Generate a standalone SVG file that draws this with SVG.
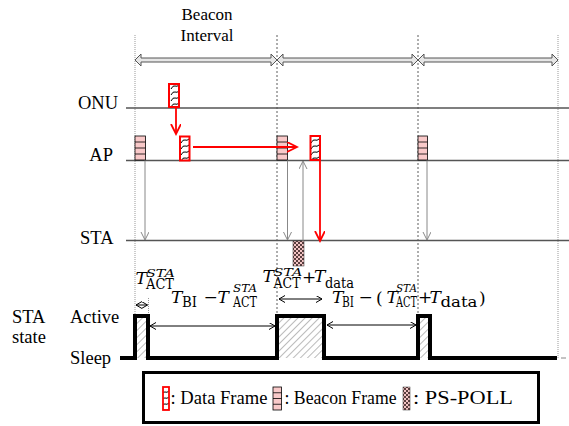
<svg xmlns="http://www.w3.org/2000/svg" width="569" height="426" viewBox="0 0 569 426" font-family="'Liberation Serif', 'DejaVu Serif', serif">
<style>
text{font-family:'Liberation Serif','DejaVu Serif',serif;fill:#000}
.lbl{font-size:18.5px}
.leg{font-size:18.5px}
.mt{font-family:'DejaVu Serif','Liberation Serif',serif}
.m{font-size:17px;font-style:italic}
.op{font-size:17px}
.sub{font-size:14.5px}
.sup{font-size:11.5px;font-style:italic}
.axis{stroke:#555;stroke-width:1.4}
.vdot{stroke:#999;stroke-width:1;stroke-dasharray:1 1}
.vdash{stroke:#333;stroke-width:0.8;stroke-dasharray:2 2}
.gray{stroke:#888;stroke-width:1;fill:none}
.red{stroke:#ff0000;stroke-width:1.8;fill:none}
.meas{stroke:#000;stroke-width:1;fill:none}
.beacon{fill:#f9c9c9;stroke:#000;stroke-width:0.8}
.data{fill:url(#dataH);stroke:#ff0000;stroke-width:2}
.bi{fill:#e6e6e6;stroke:#555;stroke-width:1}
</style>
<defs>
<pattern id="dataH" width="10" height="6" patternUnits="userSpaceOnUse">
<rect width="10" height="6" fill="#fff"/>
<path d="M1,5 Q3,1 5,2 Q7,3 9,1" stroke="#000" stroke-width="1" fill="none"/>
</pattern>
<pattern id="checker" width="4" height="4" patternUnits="userSpaceOnUse">
<rect width="4" height="4" fill="#f3c4c4"/>
<rect width="2" height="2" fill="#5a3f3f"/>
<rect x="2" y="2" width="2" height="2" fill="#5a3f3f"/>
</pattern>
<pattern id="diag" width="5" height="5" patternUnits="userSpaceOnUse" patternTransform="rotate(45)">
<rect width="5" height="5" fill="#fff"/>
<line x1="0" y1="0" x2="0" y2="5" stroke="#777" stroke-width="1"/>
</pattern>
<marker id="gv" markerWidth="10" markerHeight="10" refX="8" refY="4" orient="auto" markerUnits="userSpaceOnUse">
<path d="M0,0 L8,4 L0,8" fill="none" stroke="#888" stroke-width="1"/>
</marker>
<marker id="rv" markerWidth="12" markerHeight="12" refX="10" refY="5" orient="auto" markerUnits="userSpaceOnUse">
<path d="M0,0 L10,5 L0,10" fill="none" stroke="#ff0000" stroke-width="1.8"/>
</marker>
<marker id="bv" markerWidth="8" markerHeight="8" refX="6" refY="3.5" orient="auto-start-reverse" markerUnits="userSpaceOnUse">
<path d="M0,0 L6,3.5 L0,7" fill="none" stroke="#000" stroke-width="1"/>
</marker>
</defs>

<rect width="569" height="426" fill="#fff"/>

<g id="title">
<text x="207" y="20" text-anchor="middle" style="font-size:17px">Beacon</text>
<text x="207" y="40.5" text-anchor="middle" style="font-size:17px">Interval</text>
</g>

<g id="grid">
<line class="vdot" x1="135" y1="35" x2="135" y2="316"/>
<line class="vdash" x1="277" y1="35" x2="277" y2="316"/>
<line class="vdash" x1="418" y1="35" x2="418" y2="316"/>
<line class="vdot" x1="558" y1="35" x2="558" y2="358"/>
<line class="vdot" x1="148.5" y1="298" x2="148.5" y2="316"/>
</g>

<g id="intervals">
<path class="bi" d="M135,60 L141,54 L141,58 L271,58 L271,54 L277,60 L271,66 L271,62 L141,62 L141,66 Z"/>
<path class="bi" d="M277,60 L283,54 L283,58 L412,58 L412,54 L418,60 L412,66 L412,62 L283,62 L283,66 Z"/>
<path class="bi" d="M418,60 L424,54 L424,58 L552,58 L552,54 L558,60 L552,66 L552,62 L424,62 L424,66 Z"/>
</g>

<g id="onu">
<line class="axis" x1="126" y1="108" x2="569" y2="108"/>
<text class="lbl" x="118" y="109" text-anchor="end">ONU</text>
</g>
<g id="ap">
<line class="axis" x1="126" y1="160.5" x2="569" y2="160.5"/>
<text class="lbl" x="113" y="161" text-anchor="end">AP</text>
</g>
<g id="sta">
<line class="axis" x1="126" y1="240.5" x2="569" y2="240.5"/>
<text class="lbl" x="113.5" y="244" text-anchor="end">STA</text>
</g>

<g id="beacons">
<g id="beacon1"><rect class="beacon" x="135" y="136" width="10.5" height="24"/><path d="M135,142H145.5M135,148H145.5M135,154H145.5" stroke="#000" stroke-width="0.8"/></g>
<g id="beacon2"><rect class="beacon" x="277" y="136" width="10.5" height="24"/><path d="M277,142H287.5M277,148H287.5M277,154H287.5" stroke="#000" stroke-width="0.8"/></g>
<g id="beacon3"><rect class="beacon" x="418" y="136" width="9.5" height="24"/><path d="M418,142H427.5M418,148H427.5M418,154H427.5" stroke="#000" stroke-width="0.8"/></g>
</g>

<g id="dataframes">
<rect id="data-onu" class="data" x="169" y="84" width="10" height="23"/>
<rect id="data-ap1" class="data" x="180" y="136.5" width="9.5" height="24"/>
<rect id="data-ap2" class="data" x="310.5" y="136" width="9.5" height="24"/>
</g>

<g id="pspoll">
<rect x="293" y="241" width="11" height="25" fill="url(#checker)" stroke="#333" stroke-width="0.5"/>
</g>

<g id="connectors">
<line class="gray" x1="145" y1="160.5" x2="145" y2="240" marker-end="url(#gv)"/>
<line class="gray" x1="287.5" y1="160.5" x2="287.5" y2="240" marker-end="url(#gv)"/>
<line class="gray" x1="427" y1="160.5" x2="427" y2="240" marker-end="url(#gv)"/>
<line class="gray" x1="303" y1="241" x2="303" y2="161" marker-end="url(#gv)"/>
<line class="red" x1="176" y1="107" x2="176" y2="134" marker-end="url(#rv)"/>
<line class="red" x1="193" y1="147" x2="297" y2="147" marker-end="url(#rv)"/>
<line class="red" x1="320" y1="160" x2="320" y2="241" marker-end="url(#rv)"/>
</g>

<g id="state">
<text class="lbl" x="12" y="323">STA</text>
<text class="lbl" x="12" y="343">state</text>
<text class="lbl" x="70" y="323">Active</text>
<text class="lbl" x="70" y="364">Sleep</text>
<rect x="135" y="316" width="13" height="42" fill="url(#diag)"/>
<rect x="277" y="316" width="47" height="42" fill="url(#diag)"/>
<rect x="418" y="316" width="12" height="42" fill="url(#diag)"/>
<path d="M120,358 H135 V316 H148 V358 H277 V316 H324 V358 H418 V316 H430 V358 H557" fill="none" stroke="#000" stroke-width="4"/>
<line x1="561" y1="358" x2="566" y2="358" stroke="#888" stroke-width="1"/>
</g>

<g id="measures">
<line class="meas" x1="136" y1="305" x2="147.5" y2="305" marker-start="url(#bv)" marker-end="url(#bv)"/>
<line class="meas" x1="150" y1="326" x2="275" y2="326" marker-start="url(#bv)" marker-end="url(#bv)"/>
<line class="meas" x1="279" y1="299" x2="322" y2="299" marker-start="url(#bv)" marker-end="url(#bv)"/>
<line class="meas" x1="327" y1="325" x2="416" y2="325" marker-start="url(#bv)" marker-end="url(#bv)"/>
<text class="mt"><tspan class="m" x="135.5" y="283.5">T</tspan><tspan class="sup" x="146" y="277" textLength="29" lengthAdjust="spacingAndGlyphs">STA</tspan><tspan class="sub" x="146" y="289" textLength="28" lengthAdjust="spacingAndGlyphs">ACT</tspan></text>
<text class="mt"><tspan class="m" x="171" y="303">T</tspan><tspan class="sub" x="182" y="307" textLength="15" lengthAdjust="spacingAndGlyphs">BI</tspan><tspan class="op" x="203.5" y="303">−</tspan><tspan class="m" x="217.5" y="303">T</tspan><tspan class="sup" x="233" y="292" textLength="24" lengthAdjust="spacingAndGlyphs">STA</tspan><tspan class="sub" x="233" y="307" textLength="24" lengthAdjust="spacingAndGlyphs">ACT</tspan></text>
<text class="mt"><tspan class="m" x="262.5" y="282">T</tspan><tspan class="sup" x="273.5" y="275.5" textLength="29" lengthAdjust="spacingAndGlyphs">STA</tspan><tspan class="sub" x="273.5" y="288" textLength="27" lengthAdjust="spacingAndGlyphs">ACT</tspan><tspan class="op" x="302" y="283">+</tspan><tspan class="m" x="314" y="282">T</tspan><tspan class="sub" x="325" y="288" textLength="29" lengthAdjust="spacingAndGlyphs">data</tspan></text>
<text class="mt"><tspan class="m" x="332" y="303">T</tspan><tspan class="sub" x="342" y="307" textLength="12" lengthAdjust="spacingAndGlyphs">BI</tspan><tspan class="op" x="358.5" y="303">−</tspan><tspan class="op" x="376" y="304">(</tspan><tspan class="m" x="386.5" y="303">T</tspan><tspan class="sup" x="396" y="292" textLength="21" lengthAdjust="spacingAndGlyphs">STA</tspan><tspan class="sub" x="396" y="307" textLength="21" lengthAdjust="spacingAndGlyphs">ACT</tspan><tspan class="op" x="418" y="303">+</tspan><tspan class="m" x="429.5" y="303">T</tspan><tspan class="sub" x="440.5" y="307" textLength="37" lengthAdjust="spacingAndGlyphs">data</tspan><tspan class="op" x="479" y="304">)</tspan></text>
</g>

<g id="legend">
<rect x="143.5" y="372.5" width="395" height="50" fill="#fff" stroke="#000" stroke-width="3"/>
<rect x="163" y="387" width="6" height="23" fill="url(#dataH)" stroke="#ff0000" stroke-width="1.8"/>
<text class="leg" x="170.5" y="403.5" textLength="97" lengthAdjust="spacingAndGlyphs">: Data Frame</text>
<rect class="beacon" x="273" y="387" width="8.5" height="23"/>
<path d="M273,392.75H281.5M273,398.5H281.5M273,404.25H281.5" stroke="#000" stroke-width="0.8"/>
<text class="leg" x="284.5" y="403.5" textLength="112" lengthAdjust="spacingAndGlyphs">: Beacon Frame</text>
<rect x="403" y="387" width="7" height="23" fill="url(#checker)" stroke="#333" stroke-width="0.5"/>
<text class="leg" x="413" y="403.5" textLength="100" lengthAdjust="spacingAndGlyphs">: PS-POLL</text>
</g>
</svg>
